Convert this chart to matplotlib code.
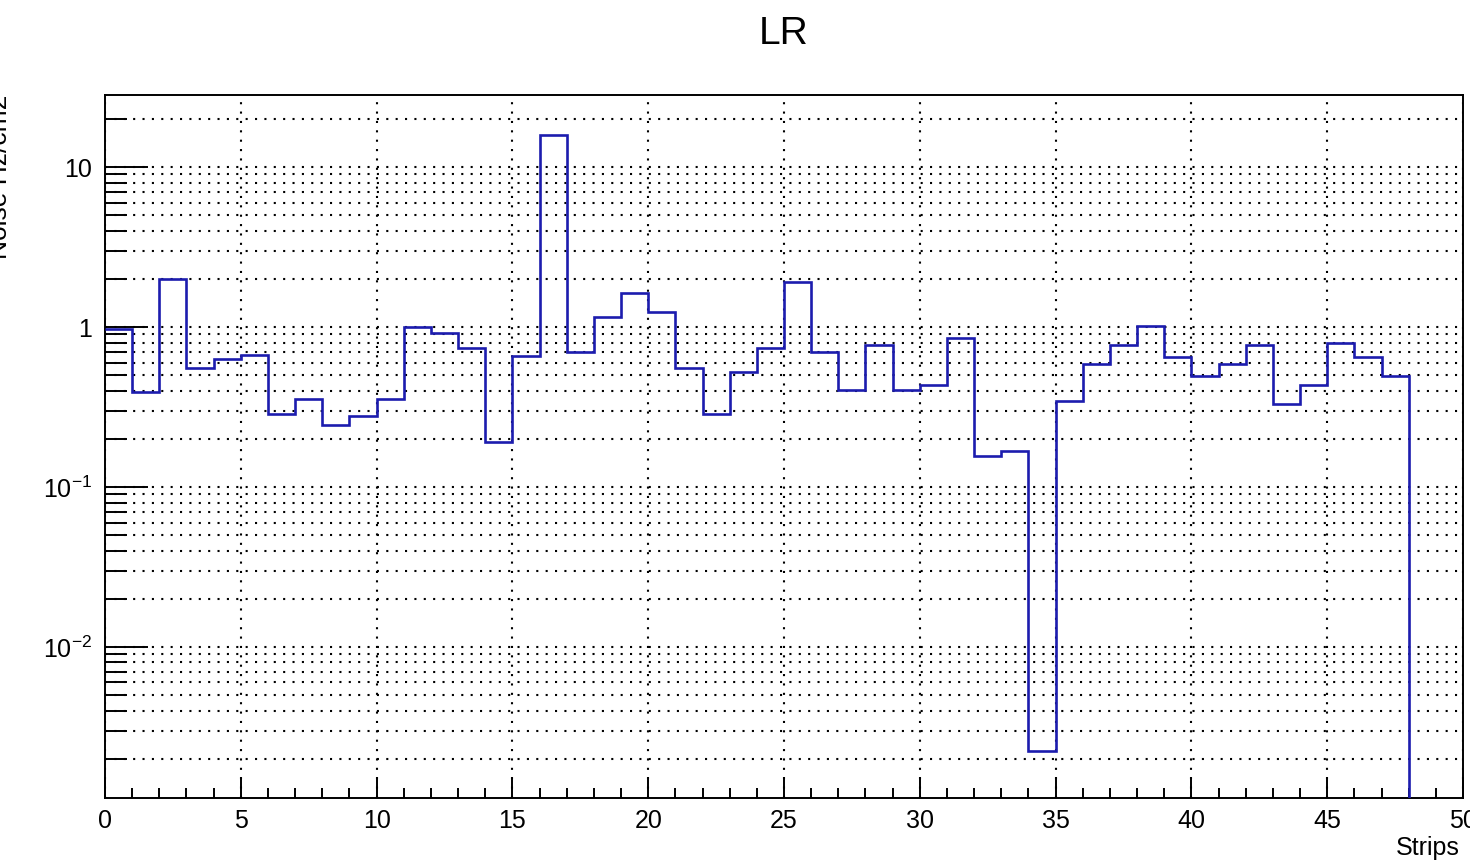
import numpy as np
import matplotlib
matplotlib.use('Agg')
import matplotlib.pyplot as plt
from matplotlib.ticker import FixedLocator, FixedFormatter, NullFormatter

plt.rcParams['font.family'] = ['Liberation Sans', 'DejaVu Sans']
plt.rcParams['mathtext.fontset'] = 'custom'
plt.rcParams['mathtext.rm'] = 'Liberation Sans'
plt.rcParams['mathtext.it'] = 'Liberation Sans:italic'
plt.rcParams['mathtext.bf'] = 'Liberation Sans:bold'

# шумовые частоты по стрипам (Hz/cm2), 50 бинов шириной 1
strips = np.arange(51)
noise = [0.97, 0.39, 2.0, 0.552, 0.628, 0.668, 0.288, 0.356, 0.244, 0.279,
         0.356, 1.0, 0.917, 0.74, 0.192, 0.655, 15.8, 0.70, 1.155, 1.63,
         1.235, 0.552, 0.288, 0.52, 0.74, 1.92, 0.695, 0.404, 0.768, 0.404,
         0.432, 0.85, 0.156, 0.168, 0.00224, 0.343, 0.587, 0.772, 1.01, 0.652,
         0.494, 0.587, 0.772, 0.33, 0.432, 0.798, 0.652, 0.494, 0.0, 0.0]

y_major = [0.01, 0.1, 1, 10]
y_major_labels = ['$10^{-2}$', '$10^{-1}$', '1', '10']
x_major = [0, 5, 10, 15, 20, 25, 30, 35, 40, 45, 50]

ymin, ymax = 0.001138, 28.2

fig = plt.figure(figsize=(14.7, 8.6), dpi=100)
ax = fig.add_axes([105 / 1470, 62 / 860, 1358 / 1470, 703 / 860])

# пустые бины в логарифмической шкале уходят под нижнюю границу
counts = np.array(noise)
counts_plot = np.where(counts > 0, counts, ymin * 1e-3)
ax.stairs(counts_plot, strips, baseline=None, color='#1c1cae', lw=1.9, zorder=3)

ax.set_yscale('log')
ax.set_xlim(0, 50)
ax.set_ylim(ymin, ymax)

ax.xaxis.set_major_locator(FixedLocator(x_major))
ax.xaxis.set_minor_locator(FixedLocator(np.arange(0, 51, 1)))
ax.set_xticklabels([str(v) for v in x_major])

minor_y = [m * 10.0 ** e for e in range(-3, 2) for m in range(2, 10)]
ax.yaxis.set_major_locator(FixedLocator(y_major))
ax.yaxis.set_major_formatter(FixedFormatter(y_major_labels))
ax.yaxis.set_minor_locator(FixedLocator(minor_y))
ax.yaxis.set_minor_formatter(NullFormatter())

ax.tick_params(axis='x', which='major', direction='in', length=15, width=1.4,
               labelsize=18, pad=8, top=False)
ax.tick_params(axis='x', which='minor', direction='in', length=7.5, width=1.4, top=False)
ax.tick_params(axis='y', which='major', direction='in', length=31, width=1.4,
               labelsize=18, pad=9, right=False)
ax.tick_params(axis='y', which='minor', direction='in', length=16, width=1.4, right=False)

for s in ax.spines.values():
    s.set_linewidth(1.4)

grid_style = dict(color='black', linestyle=(0, (1, 3.5)), linewidth=1.5)
ax.grid(True, which='both', axis='y', **grid_style)
ax.grid(True, which='major', axis='x', **grid_style)
ax.set_axisbelow(True)

fig.text(784 / 1470, 1 - 34 / 860, 'LR', ha='center', va='center', fontsize=28)
fig.text(1460 / 1470, 1 - 855 / 860, 'Strips', ha='right', va='baseline', fontsize=18)
fig.text(12 / 1470, 1 - 95 / 860, 'Noise Hz/cm2', rotation=90, ha='right', va='top',
         fontsize=19)

fig.savefig('out.png', dpi=100)
